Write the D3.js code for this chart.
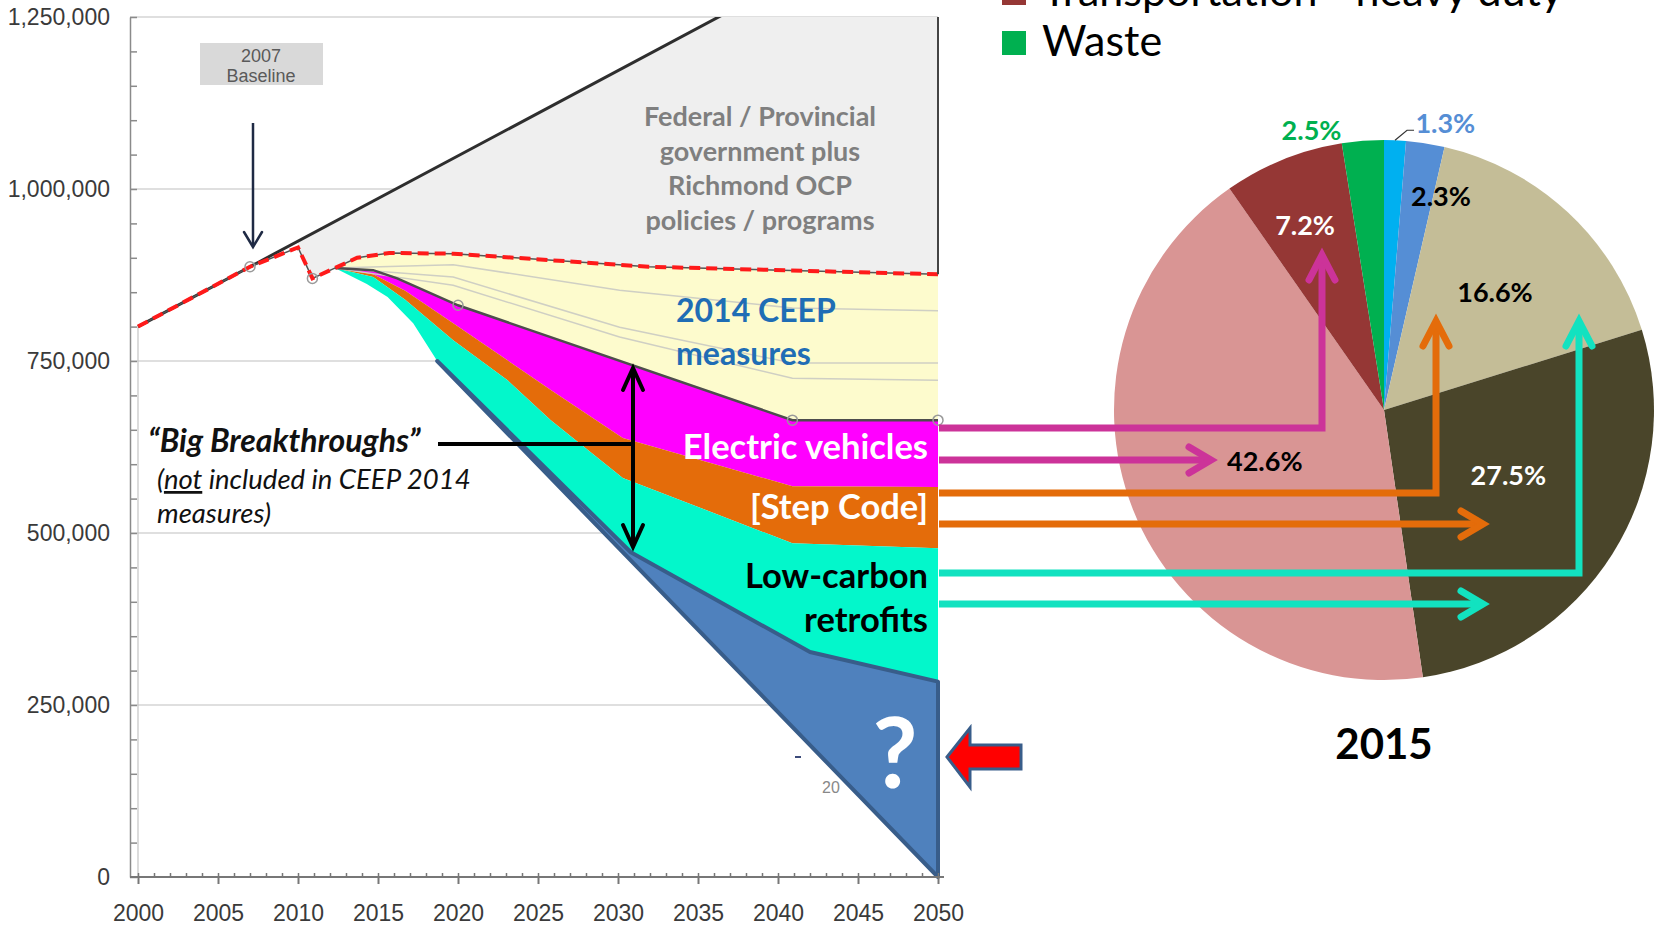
<!DOCTYPE html>
<html>
<head>
<meta charset="utf-8">
<script src="https://cdn.jsdelivr.net/npm/d3@7"></script>
<style>
    body { margin: 0; background: #fff; overflow: hidden; }
    svg { display: block; }
    text { font-family: Lato, "Open Sans", sans-serif; }
    .axis text { font-family: "Liberation Sans", Arial, sans-serif; fill: #3a3a3a; }
</style>
</head>
<body>
<svg id="viz" width="1654" height="926"></svg>
<script>
// ---- emissions chart data (tonnes CO2e) ----
let bauYears = [2000, 2007, 2050];
let bauValues = [800000, 887000, 1420000];

let policyYears = [2000, 2007, 2010, 2010.9, 2012.3, 2013.7, 2015.7, 2019.7, 2031.9, 2050];
let policyValues = [800000, 887000, 915000, 870000, 885000, 900000, 907000, 906000, 887000, 876000];

// bottom of the 2014 CEEP wedge = top of electric vehicles
let evTopYears = [2012.3, 2014.7, 2016.2, 2020, 2040.9, 2050];
let evTopValues = [885000, 882000, 870000, 831000, 664000, 664000];

let evBottomYears = [2012.3, 2014.7, 2016.7, 2019.7, 2025.8, 2030.3, 2040.9, 2050];
let evBottomValues = [885000, 876000, 852000, 805000, 708000, 638000, 568000, 567000];

let stepBottomYears = [2012.3, 2014.7, 2016.7, 2019.7, 2023.1, 2025.8, 2030.3, 2040.9, 2050];
let stepBottomValues = [885000, 872000, 839000, 780000, 722000, 664000, 580000, 485000, 478000];

let retroBottomYears = [2012.3, 2014.3, 2015.6, 2017.2, 2018.7, 2030.8, 2042, 2050];
let retroBottomValues = [885000, 862000, 843000, 805000, 750000, 472000, 327000, 284000];

// the "?" gap down to zero
let gapYears = [2018.7, 2030.8, 2042, 2050, 2050];
let gapValues = [750000, 472000, 327000, 284000, 0];

// thin wedge lines inside the CEEP measures
let ceepLineYears = [2012.3, 2019.7, 2030.1, 2040.9, 2050];
let ceepLine1 = [885000, 890000, 853000, 827000, 823000];
let ceepLine2 = [885000, 872000, 799000, 747000, 747000];
let ceepLine3 = [885000, 860000, 785000, 725000, 722000];

let markerYears = [2007, 2010.9, 2020, 2040.9, 2050];
let markerValues = [887000, 870000, 831000, 664000, 664000];

let yTicks = [0, 250000, 500000, 750000, 1000000, 1250000];
let xTicks = [2000, 2005, 2010, 2015, 2020, 2025, 2030, 2035, 2040, 2045, 2050];

// ---- 2015 pie data ----
let shareNames = ["Other", "Solid waste", "Buildings - commercial", "Transportation - light duty",
    "Buildings - residential", "Transportation - heavy duty", "Waste"];
let shareValues = [1.3, 2.3, 16.6, 27.5, 42.6, 7.2, 2.5];
let shareColors = ["#00b0f0", "#558ed5", "#c4bd97", "#4a452a", "#d99594", "#953735", "#00b050"];
let shareLabelColors = ["#558ed5", "#000", "#000", "#fff", "#000", "#fff", "#00b050"];
let legendNames = ["Transportation - heavy duty", "Waste"];
let legendColors = ["#953735", "#00b050"];

window.onload = function () {
    let svg = d3.select("#viz");
    make_chart(svg);
    make_pie(svg);
};

function pts(ys, vs) {
    return ys.map((t, i) => [t, vs[i]]);
}

function chevron(g, tip, dir, len, half, color, w) {
    // open arrow head; dir = unit vector the arrow points to
    let bx = tip[0] - dir[0] * len, by = tip[1] - dir[1] * len;
    let px = -dir[1] * half, py = dir[0] * half;
    g.append("polyline")
        .attr("points", [[bx + px, by + py], tip, [bx - px, by - py]].join(" "))
        .attr("fill", "none")
        .attr("stroke", color)
        .attr("stroke-width", w)
        .attr("stroke-linecap", "round")
        .attr("stroke-linejoin", "miter");
}

function make_chart(svg) {
    let x = d3.scaleLinear().domain([2000, 2050]).range([138, 938]);
    let y = d3.scaleLinear().domain([0, 1250000]).range([877, 17]);
    let line = d3.line().x(d => x(d[0])).y(d => y(d[1]));
    let band = (top, bottom) => line(top.concat(bottom.slice().reverse())) + "Z";

    svg.append("clipPath").attr("id", "plot-clip")
        .append("rect").attr("x", 130).attr("y", 17).attr("width", 808).attr("height", 860);

    // gridlines
    svg.selectAll(".grid")
        .data(yTicks.slice(1))
        .enter()
        .append("line")
        .attr("x1", 130).attr("x2", x(2050))
        .attr("y1", d => y(d)).attr("y2", d => y(d))
        .attr("stroke", "#d4d4d4")
        .attr("stroke-width", 1.5);

    // second faint axis line from the original chart
    svg.append("line")
        .attr("x1", x(2000)).attr("x2", x(2000))
        .attr("y1", y(800000)).attr("y2", y(0))
        .attr("stroke", "#c4c4c4").attr("stroke-width", 1.2);

    let plot = svg.append("g").attr("clip-path", "url(#plot-clip)");

    // federal / provincial wedge (between BAU and existing policy)
    let bau = d3.scaleLinear().domain(bauYears).range(bauValues);
    let policy = pts(policyYears, policyValues);
    let policyAfter = policy.filter(d => d[0] >= 2010);
    plot.append("path")
        .attr("d", band([[2010, bau(2010)], [2050, bau(2050)]], policyAfter))
        .attr("fill", "#efefef");

    // 2014 CEEP measures
    let evTop = pts(evTopYears, evTopValues);
    plot.append("path")
        .attr("d", band(policy.filter(d => d[0] >= 2012.3), evTop))
        .attr("fill", "#fdfbcd");

    let evBottom = pts(evBottomYears, evBottomValues);
    let stepBottom = pts(stepBottomYears, stepBottomValues);
    let retroBottom = pts(retroBottomYears, retroBottomValues);

    plot.append("path").attr("d", band(evTop, evBottom)).attr("fill", "#ff00ff");
    plot.append("path").attr("d", band(evBottom, stepBottom)).attr("fill", "#e46c0a");
    plot.append("path").attr("d", band(stepBottom, retroBottom)).attr("fill", "#03f7cb");

    // thin wedge lines
    for (let vals of [ceepLine1, ceepLine2, ceepLine3]) {
        plot.append("path")
            .attr("d", line(pts(ceepLineYears, vals)))
            .attr("fill", "none")
            .attr("stroke", "#cfcfc4")
            .attr("stroke-width", 1.5);
    }

    plot.append("path")
        .attr("d", line(evTop))
        .attr("fill", "none")
        .attr("stroke", "#4d4d4d")
        .attr("stroke-width", 2.5);

    // BAU line
    plot.append("path")
        .attr("d", line(pts(bauYears, bauValues)))
        .attr("fill", "none")
        .attr("stroke", "#2e2e2e")
        .attr("stroke-width", 3);

    // existing policy: dark line under red dashes
    plot.append("path")
        .attr("d", line(policy))
        .attr("fill", "none")
        .attr("stroke", "#555")
        .attr("stroke-width", 1.5);
    plot.append("path")
        .attr("d", line(policy))
        .attr("fill", "none")
        .attr("stroke", "#ff1a1a")
        .attr("stroke-width", 4)
        .attr("stroke-dasharray", "11 6");

    // right edge of the grey wedge
    svg.append("line")
        .attr("x1", x(2050)).attr("x2", x(2050))
        .attr("y1", y(1250000)).attr("y2", y(policyValues[policyValues.length - 1]))
        .attr("stroke", "#444").attr("stroke-width", 2);

    svg.selectAll(".marker")
        .data(pts(markerYears, markerValues))
        .enter()
        .append("circle")
        .attr("cx", d => x(d[0]))
        .attr("cy", d => y(d[1]))
        .attr("r", 5)
        .attr("fill", "none")
        .attr("stroke", "#9a9a9a")
        .attr("stroke-width", 1.5);

    // leftover bits of the original chart under the "?" shape
    svg.append("line").attr("x1", 795).attr("x2", 801).attr("y1", 757).attr("y2", 757)
        .attr("stroke", "#3c4b7a").attr("stroke-width", 2);
    svg.append("text").attr("x", 822).attr("y", 793).text("20")
        .style("font-family", "Liberation Sans").style("font-size", "16px").style("fill", "#888");

    // the unknown gap
    svg.append("path")
        .attr("d", line(pts(gapYears, gapValues)) + "Z")
        .attr("fill", "#4f81bd")
        .attr("stroke", "#385d8a")
        .attr("stroke-width", 4)
        .attr("stroke-linejoin", "round");

    // axes
    let yAxis = svg.append("g")
        .attr("class", "axis")
        .attr("transform", "translate(130,0)")
        .call(d3.axisLeft(y).tickValues(yTicks).tickFormat(d3.format(",")).tickSize(0).tickPadding(20));
    yAxis.select(".domain").attr("stroke", "#8a8a8a").attr("stroke-width", 1.5);
    yAxis.selectAll("text").style("font-size", "23px");

    let yMinor = svg.append("g")
        .attr("transform", "translate(130,0)")
        .call(d3.axisRight(y).tickValues(d3.range(0, 1250001, 50000)).tickSize(7).tickFormat(""));
    yMinor.select(".domain").remove();
    yMinor.selectAll("line").attr("stroke", "#8a8a8a").attr("stroke-width", 1.5);

    let xAxis = svg.append("g")
        .attr("class", "axis")
        .attr("transform", "translate(0,877)")
        .call(d3.axisBottom(x).tickValues(xTicks).tickFormat(d3.format("d")).tickSize(7).tickPadding(21).tickSizeOuter(0));
    xAxis.select(".domain").attr("d", "M130,0H" + (x(2050) + 6)).attr("stroke", "#777").attr("stroke-width", 2);
    xAxis.selectAll("line").attr("stroke", "#777").attr("stroke-width", 2);
    xAxis.selectAll("text").style("font-size", "23px");

    let xMinor = svg.append("g")
        .attr("transform", "translate(0,877)")
        .call(d3.axisTop(x).tickValues(d3.range(2000, 2051, 1)).tickSize(4).tickFormat(""));
    xMinor.select(".domain").remove();
    xMinor.selectAll("line").attr("stroke", "#777").attr("stroke-width", 1.5);

    // ---- annotations ----
    svg.append("rect").attr("x", 200).attr("y", 43).attr("width", 123).attr("height", 42).attr("fill", "#d9d9d9");
    svg.append("text").attr("x", 261).attr("y", 62).attr("text-anchor", "middle").text("2007")
        .style("font-family", "Liberation Sans").style("font-size", "18px").style("fill", "#5a5a5a");
    svg.append("text").attr("x", 261).attr("y", 82).attr("text-anchor", "middle").text("Baseline")
        .style("font-family", "Liberation Sans").style("font-size", "18px").style("fill", "#5a5a5a");
    svg.append("line").attr("x1", 253).attr("x2", 253).attr("y1", 123).attr("y2", 246)
        .attr("stroke", "#1f2a44").attr("stroke-width", 2.5);
    chevron(svg, [253, 247], [0, 1], 15, 9, "#1f2a44", 2.5);

    let fedLines = ["Federal / Provincial", "government plus", "Richmond OCP", "policies / programs"];
    svg.selectAll(".fed")
        .data(fedLines)
        .enter()
        .append("text")
        .attr("x", 760)
        .attr("y", (d, i) => 126 + i * 34.5)
        .attr("text-anchor", "middle")
        .style("font-size", "27px")
        .style("font-weight", "bold")
        .style("fill", "#7f7f7f")
        .text(d => d);

    svg.append("text").attr("x", 676).attr("y", 322).text("2014 CEEP")
        .style("font-size", "32px").style("font-weight", "bold").style("fill", "#1f6db5");
    svg.append("text").attr("x", 676).attr("y", 365).text("measures")
        .style("font-size", "32px").style("font-weight", "bold").style("fill", "#1f6db5");

    let bandLabels = [
        {t: "Electric vehicles", y: 459, c: "#fff"},
        {t: "[Step Code]", y: 519, c: "#fff"},
        {t: "Low-carbon", y: 588, c: "#000"},
        {t: "retrofits", y: 632, c: "#000"}
    ];
    svg.selectAll(".bandlab")
        .data(bandLabels)
        .enter()
        .append("text")
        .attr("x", 928)
        .attr("y", d => d.y)
        .attr("text-anchor", "end")
        .style("font-size", "34.5px")
        .style("font-weight", "bold")
        .style("fill", d => d.c)
        .text(d => d.t);

    svg.append("text").attr("x", 895).attr("y", 788).attr("text-anchor", "middle").text("?")
        .style("font-size", "98px").style("font-weight", "bold").style("fill", "#fff");

    // red arrow pointing at 2050
    svg.append("path")
        .attr("d", "M947,757 L970,728 L970,745 L1021,745 L1021,769 L970,769 L970,787 Z")
        .attr("fill", "#ff0000")
        .attr("stroke", "#385d8a")
        .attr("stroke-width", 3)
        .attr("stroke-linejoin", "miter");

    // big breakthroughs
    svg.append("text").attr("x", 148).attr("y", 452).text("\u201cBig Breakthroughs\u201d")
        .style("font-size", "32px").style("font-weight", "bold").style("font-style", "italic").style("fill", "#111");
    let sub = svg.append("text").attr("x", 157).attr("y", 489)
        .style("font-size", "27.5px").style("font-style", "italic").style("fill", "#111");
    sub.append("tspan").text("(");
    sub.append("tspan").text("not").style("text-decoration", "underline");
    sub.append("tspan").text(" included in CEEP 2014");
    svg.append("text").attr("x", 157).attr("y", 523).text("measures)")
        .style("font-size", "27.5px").style("font-style", "italic").style("fill", "#111");

    svg.append("line").attr("x1", 438).attr("x2", 633).attr("y1", 444).attr("y2", 444)
        .attr("stroke", "#000").attr("stroke-width", 4);
    svg.append("line").attr("x1", 633).attr("x2", 633).attr("y1", 369).attr("y2", 546)
        .attr("stroke", "#000").attr("stroke-width", 4);
    chevron(svg, [633, 368], [0, -1], 22, 10, "#000", 4);
    chevron(svg, [633, 547], [0, 1], 22, 10, "#000", 4);
}

function make_pie(svg) {
    let cx = 1384, cy = 410, radius = 270;
    let g = svg.append("g").attr("transform", "translate(" + cx + "," + cy + ")");

    let pie = d3.pie().sort(null).value(d => d);
    let data_ready = pie(shareValues);
    let arc = d3.arc().innerRadius(0).outerRadius(radius);

    g.selectAll(".slice")
        .data(data_ready)
        .enter()
        .append("path")
        .attr("d", arc)
        .attr("fill", (d, i) => shareColors[i]);

    // label spots: shift of angle from mid slice, and radius as share of pie radius
    let labelShift = [0.17, 0.106, 0.007, -0.08, -0.026, -0.02, -0.175];
    let labelRad = [1.085, 0.82, 0.6, 0.52, 0.48, 0.745, 1.07];
    let polar = (a, r) => [Math.sin(a) * r, -Math.cos(a) * r];

    g.selectAll(".pielab")
        .data(data_ready)
        .enter()
        .append("text")
        .attr("transform", (d, i) => {
            let mid = (d.startAngle + d.endAngle) / 2 + labelShift[i];
            return "translate(" + polar(mid, radius * labelRad[i]) + ")";
        })
        .attr("dy", "0.36em")
        .attr("text-anchor", "middle")
        .style("font-size", "27px")
        .style("font-weight", "bold")
        .style("fill", (d, i) => shareLabelColors[i])
        .text(d => d.value.toFixed(1) + "%");

    // leader line for the smallest slice
    let first = data_ready[0];
    let p0 = polar((first.startAngle + first.endAngle) / 2, radius * 1.0);
    g.append("polyline")
        .attr("points", [p0, [p0[0] + 12, p0[1] - 10], [p0[0] + 19, p0[1] - 10]].join(" "))
        .attr("fill", "none")
        .attr("stroke", "#333")
        .attr("stroke-width", 1.2);

    svg.append("text").attr("x", cx).attr("y", 759).attr("text-anchor", "middle").text("2015")
        .style("font-size", "42px").style("font-weight", "bold").style("fill", "#000");

    // legend (cut off at the top like the original slide)
    let legend = svg.selectAll(".legend")
        .data(legendNames)
        .enter()
        .append("g")
        .attr("transform", (d, i) => "translate(1002," + (6 + i * 50) + ")");
    legend.append("rect")
        .attr("x", 0).attr("y", -25).attr("width", 24).attr("height", 24)
        .attr("fill", (d, i) => legendColors[i]);
    legend.append("text")
        .attr("x", 40).attr("y", 0)
        .style("font-size", "43px")
        .style("fill", "#000")
        .text(d => d);

    // arrows linking the breakthrough wedges to the pie slices
    let arrows = [
        {c: "#cc3399", y: 428, x: cx - 62, tip: cy - 154},
        {c: "#cc3399", y: 460, x: cx - 174},
        {c: "#e46c0a", y: 493, x: cx + 52, tip: cy - 88},
        {c: "#e46c0a", y: 524, x: cx + 98},
        {c: "#12e2c0", y: 573, x: cx + 195, tip: cy - 88},
        {c: "#12e2c0", y: 604, x: cx + 98}
    ];
    for (let a of arrows) {
        let points = [[939, a.y], [a.x, a.y]];
        if (a.tip !== undefined) points.push([a.x, a.tip]);
        svg.append("polyline")
            .attr("points", points.join(" "))
            .attr("fill", "none")
            .attr("stroke", a.c)
            .attr("stroke-width", 7)
            .attr("stroke-linejoin", "miter");
        if (a.tip !== undefined) chevron(svg, [a.x, a.tip - 1], [0, -1], 25, 13, a.c, 7);
        else chevron(svg, [a.x + 1, a.y], [1, 0], 22, 13, a.c, 7);
    }
}
</script>
</body>
</html>
